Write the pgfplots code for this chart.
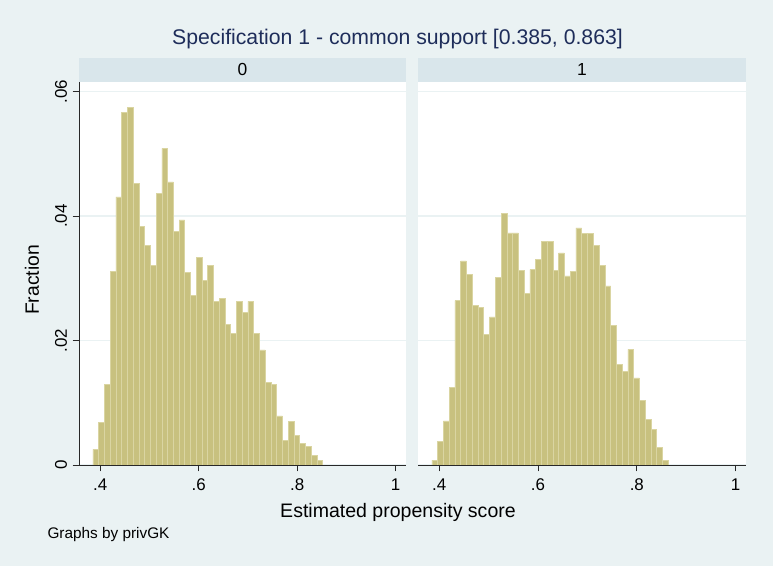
\documentclass[border=0pt]{standalone}
\usepackage{pgfplots}
\pgfplotsset{compat=1.18}
\usepackage{fontspec}
\setmainfont{Liberation Sans}
\definecolor{bgc}{RGB}{234,242,243}
\definecolor{stripc}{RGB}{217,230,235}
\definecolor{barf}{RGB}{200,193,127}
\definecolor{bare}{RGB}{218,213,162}
\definecolor{titc}{RGB}{30,45,90}
\definecolor{gridc}{RGB}{234,242,243}
\definecolor{axc}{RGB}{40,40,40}
\pgfplotsset{panel/.style={
  scale only axis, width=327bp, height=383bp, anchor=south west,
  xmin=0.357, xmax=1.021, ymin=0, ymax=0.06156,
  axis background/.style={fill=white},
  xtick={0.4,0.6,0.8,1}, xticklabels={.4,.6,.8,1},
  ytick={0,0.02,0.04,0.06},
  ymajorgrids, grid style={gridc, line width=1.3bp},
  tick style={axc, line width=0.7bp}, major tick length=6.5bp, tick align=outside,
  axis x line*=bottom, axis y line*=left,
  axis line style={axc, line width=0.8bp, -},
  ticklabel style={font=\fontsize{17}{20}\selectfont},
  xticklabel shift=3.5bp,
  scaled y ticks=false,
  /pgf/number format/assume math mode=true,
  clip=true,
}}
\begin{document}
\begin{tikzpicture}
\fill[bgc] (0bp,0bp) rectangle (773bp,566bp);
\fill[stripc] (79bp,484bp) rectangle (406bp,508bp);
\fill[stripc] (418bp,484bp) rectangle (746bp,508bp);
\node[font=\fontsize{17.5}{20}\selectfont] at (242.5bp,496bp) {0};
\node[font=\fontsize{17.5}{20}\selectfont] at (582bp,496bp) {1};
\node[text=titc, font=\fontsize{21.3}{25}\selectfont, anchor=base] at (397.5bp,521.5bp) {Specification 1 - common support [0.385, 0.863]};
\node[font=\fontsize{19.6}{23}\selectfont, anchor=base] at (398bp,48bp) {Estimated propensity score};
\node[font=\fontsize{15.4}{18}\selectfont, anchor=base west] at (44bp,27.5bp) {Graphs by privGK};
\node[font=\fontsize{19.4}{23}\selectfont, rotate=90] at (32bp,286bp) {Fraction};

\begin{axis}[panel, at={(79bp,101bp)},
  yticklabels={0,.02,.04,.06},
  yticklabel shift=2bp,
  yticklabel style={rotate=90, anchor=south}]
\addplot[ybar interval, fill=barf, draw=bare, line width=0.5bp] coordinates {
(0.3850,0.00253) (0.3967,0.00683) (0.4083,0.0129) (0.4200,0.0311) (0.4317,0.0431)
(0.4434,0.0567) (0.4550,0.0575) (0.4667,0.0453) (0.4784,0.0384) (0.4900,0.0353)
(0.5017,0.0321) (0.5134,0.0436) (0.5251,0.0509) (0.5367,0.0455) (0.5484,0.0376)
(0.5601,0.0394) (0.5717,0.0309) (0.5834,0.0273) (0.5951,0.0334) (0.6067,0.0297)
(0.6184,0.0321) (0.6301,0.0263) (0.6418,0.0268) (0.6534,0.0226) (0.6651,0.0211)
(0.6768,0.0263) (0.6884,0.0245) (0.7001,0.0263) (0.7118,0.0211) (0.7235,0.0185)
(0.7351,0.0133) (0.7468,0.0129) (0.7585,0.0079) (0.7701,0.0040) (0.7818,0.0070)
(0.7935,0.0048) (0.8052,0.0035) (0.8168,0.0030) (0.8285,0.0016) (0.8402,0.0008)
(0.8518,0)
};
\end{axis}

\begin{axis}[panel, at={(418bp,101bp)}, width=328bp,
  yticklabels={}, y axis line style={draw=none}, ytick style={draw=none}]
\addplot[ybar interval, fill=barf, draw=bare, line width=0.5bp] coordinates {
(0.3850,0.0008) (0.3967,0.0038) (0.4083,0.0071) (0.4200,0.0125) (0.4317,0.0264)
(0.4434,0.0328) (0.4550,0.0306) (0.4667,0.0257) (0.4784,0.0253) (0.4900,0.0210)
(0.5017,0.0238) (0.5134,0.0302) (0.5251,0.0404) (0.5367,0.0373) (0.5484,0.0373)
(0.5601,0.0313) (0.5717,0.0276) (0.5834,0.0314) (0.5951,0.0330) (0.6067,0.0359)
(0.6184,0.0359) (0.6301,0.0313) (0.6418,0.0341) (0.6534,0.0304) (0.6651,0.0311)
(0.6768,0.0381) (0.6884,0.0372) (0.7001,0.0372) (0.7118,0.0353) (0.7235,0.0321)
(0.7351,0.0288) (0.7468,0.0225) (0.7585,0.0162) (0.7701,0.0150) (0.7818,0.0186)
(0.7935,0.0140) (0.8052,0.0104) (0.8168,0.0073) (0.8285,0.0057) (0.8402,0.0028)
(0.8518,0.0008) (0.8635,0)
};
\end{axis}
\end{tikzpicture}
\end{document}
